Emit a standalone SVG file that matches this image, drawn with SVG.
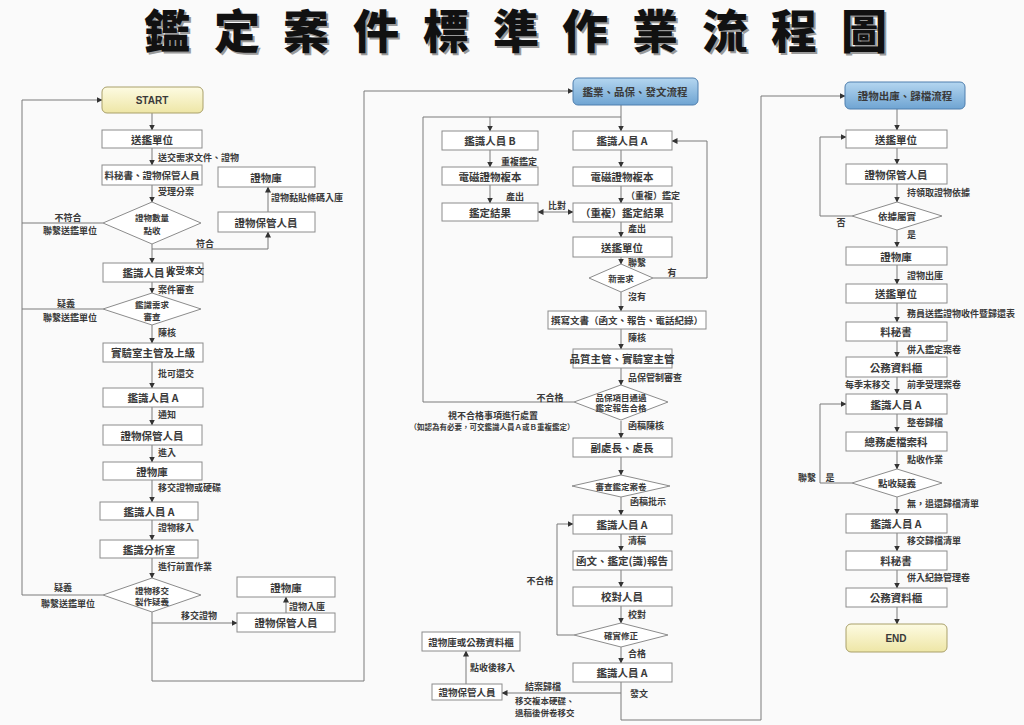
<svg xmlns="http://www.w3.org/2000/svg" width="1024" height="725" viewBox="0 0 1024 725">
<defs>
<linearGradient id="gy" x1="0" y1="0" x2="0" y2="1"><stop offset="0" stop-color="#fdfbe2"/><stop offset="1" stop-color="#eee6a6"/></linearGradient>
<linearGradient id="gb" x1="0" y1="0" x2="0" y2="1"><stop offset="0" stop-color="#b4d6f0"/><stop offset="1" stop-color="#6fa4d2"/></linearGradient>
<marker id="ar" markerWidth="6" markerHeight="6" refX="5.5" refY="3" orient="auto" markerUnits="userSpaceOnUse"><path d="M0,0 L6,3 L0,6 z" fill="#333"/></marker>
<marker id="as" markerWidth="6" markerHeight="6" refX="0.5" refY="3" orient="auto" markerUnits="userSpaceOnUse"><path d="M6,0 L0,3 L6,6 z" fill="#333"/></marker>
<style>
.bx{fill:#fff;stroke:#8c8c8c;stroke-width:1}
.st{fill:url(#gy);stroke:#a9a06a;stroke-width:1}
.bl{fill:url(#gb);stroke:#4f7fae;stroke-width:1}
.dm{fill:#fff;stroke:#8c8c8c;stroke-width:1}
text{font-family:"Noto Sans CJK TC","Noto Sans CJK SC",sans-serif;fill:#3a3a3a;dominant-baseline:central}
.t{font-size:10.5px;font-weight:bold;text-anchor:middle}
.ts{font-size:9.5px;font-weight:bold;text-anchor:middle}
.dt{font-size:8.5px;font-weight:bold;text-anchor:middle}
.l{font-size:9px;font-weight:bold}
.lc{font-size:9px;font-weight:bold;text-anchor:middle}
.en{font-family:"Liberation Sans",sans-serif;font-size:10px;font-weight:bold;text-anchor:middle}
.ln{fill:none;stroke:#7a7a7a;stroke-width:1}
.ti{font-size:46px;font-weight:900;font-family:"Noto Sans CJK TC","Noto Sans CJK SC",sans-serif;dominant-baseline:auto}
</style>
</defs>
<rect x="0" y="0" width="1024" height="725" fill="#fafafa"/>

<g id="title">
<text class="ti" x="146 216 285 355 425 495 564 634 704 773 843" y="50" style="fill:#9a9a9a">鑑定案件標準作業流程圖</text>
<text class="ti" x="144 214 283 353 423 493 562 632 702 771 841" y="48" style="fill:#111">鑑定案件標準作業流程圖</text>
</g>

<g id="connectors">
<!-- left column -->
<path class="ln" d="M152,113 V130" marker-end="url(#ar)"/>
<path class="ln" d="M152,148 V165" marker-end="url(#ar)"/>
<path class="ln" d="M152,185 V202" marker-end="url(#ar)"/>
<path class="ln" d="M103,223 H22 M22,595 V100 H102" marker-end="url(#ar)"/>
<path class="ln" d="M152,244 V263" marker-end="url(#ar)"/>
<path class="ln" d="M152,249 H268 V232" marker-end="url(#ar)"/>
<path class="ln" d="M268,212 V187" marker-end="url(#ar)"/>
<path class="ln" d="M152,282 V293" marker-end="url(#ar)"/>
<path class="ln" d="M103,309 H22"/>
<path class="ln" d="M152,325 V343" marker-end="url(#ar)"/>
<path class="ln" d="M152,362 V388" marker-end="url(#ar)"/>
<path class="ln" d="M152,407 V425" marker-end="url(#ar)"/>
<path class="ln" d="M152,445 V462" marker-end="url(#ar)"/>
<path class="ln" d="M152,480 V502" marker-end="url(#ar)"/>
<path class="ln" d="M152,520 V540" marker-end="url(#ar)"/>
<path class="ln" d="M152,558 V578" marker-end="url(#ar)"/>
<path class="ln" d="M103,595 H22"/>
<path class="ln" d="M152,612 V681 H364 V91 H573" marker-end="url(#ar)"/>
<path class="ln" d="M152,623 H237" marker-end="url(#ar)"/>
<path class="ln" d="M286,613 V597" marker-end="url(#ar)"/>
<!-- middle column -->
<path class="ln" d="M621,105 V117 M423,402 V117 H621"/>
<path class="ln" d="M490,117 V131" marker-end="url(#ar)"/>
<path class="ln" d="M621,117 V131" marker-end="url(#ar)"/>
<path class="ln" d="M490,150 V167" marker-end="url(#ar)"/>
<path class="ln" d="M490,185 V203" marker-end="url(#ar)"/>
<path class="ln" d="M621,150 V167" marker-end="url(#ar)"/>
<path class="ln" d="M621,186 V203" marker-end="url(#ar)"/>
<path class="ln" d="M538,212 H573" marker-start="url(#as)" marker-end="url(#ar)"/>
<path class="ln" d="M621,222 V237" marker-end="url(#ar)"/>
<path class="ln" d="M621,257 V264" marker-end="url(#ar)"/>
<path class="ln" d="M653,278 H707 V141 H672" marker-end="url(#ar)"/>
<path class="ln" d="M621,292 V311" marker-end="url(#ar)"/>
<path class="ln" d="M621,329 V349" marker-end="url(#ar)"/>
<path class="ln" d="M621,368 V385" marker-end="url(#ar)"/>
<path class="ln" d="M574,402 H423"/>
<path class="ln" d="M621,421 V438" marker-end="url(#ar)"/>
<path class="ln" d="M621,457 V475" marker-end="url(#ar)"/>
<path class="ln" d="M621,497 V515" marker-end="url(#ar)"/>
<path class="ln" d="M621,534 V551" marker-end="url(#ar)"/>
<path class="ln" d="M621,570 V587" marker-end="url(#ar)"/>
<path class="ln" d="M621,606 V623" marker-end="url(#ar)"/>
<path class="ln" d="M574,635 H557 V524 H573" marker-end="url(#ar)"/>
<path class="ln" d="M621,647 V663" marker-end="url(#ar)"/>
<path class="ln" d="M621,682 V720 H761 V96 H845" marker-end="url(#ar)"/>
<path class="ln" d="M621,693 H502" marker-end="url(#ar)"/>
<path class="ln" d="M466,684 V651" marker-end="url(#ar)"/>
<!-- right column -->
<path class="ln" d="M897,109 V130" marker-end="url(#ar)"/>
<path class="ln" d="M897,148 V164" marker-end="url(#ar)"/>
<path class="ln" d="M897,184 V202" marker-end="url(#ar)"/>
<path class="ln" d="M852,216 H820 V137 H846" marker-end="url(#ar)"/>
<path class="ln" d="M897,230 V247" marker-end="url(#ar)"/>
<path class="ln" d="M897,265 V284" marker-end="url(#ar)"/>
<path class="ln" d="M897,303 V322" marker-end="url(#ar)"/>
<path class="ln" d="M897,341 V357" marker-end="url(#ar)"/>
<path class="ln" d="M897,377 V394" marker-end="url(#ar)"/>
<path class="ln" d="M897,414 V432" marker-end="url(#ar)"/>
<path class="ln" d="M897,451 V469" marker-end="url(#ar)"/>
<path class="ln" d="M852,483 H820 V404 H846" marker-end="url(#ar)"/>
<path class="ln" d="M897,497 V514" marker-end="url(#ar)"/>
<path class="ln" d="M897,533 V551" marker-end="url(#ar)"/>
<path class="ln" d="M897,570 V588" marker-end="url(#ar)"/>
<path class="ln" d="M897,607 V624" marker-end="url(#ar)"/>
</g>

<g id="labels">
<text class="l" x="158" y="157">送交需求文件、證物</text>
<text class="l" x="158" y="191">受理分案</text>
<text class="lc" x="68" y="217">不符合</text>
<text class="lc" x="70" y="230">聯繫送鑑單位</text>
<text class="lc" x="205" y="243">符合</text>
<text class="l" x="271" y="197">證物黏貼條碼入庫</text>
<text class="l" x="158" y="289">案件審查</text>
<text class="lc" x="66" y="303">疑義</text>
<text class="lc" x="70" y="317">聯繫送鑑單位</text>
<text class="l" x="158" y="332">陳核</text>
<text class="l" x="158" y="373">批可還交</text>
<text class="l" x="158" y="414">通知</text>
<text class="l" x="158" y="452">進入</text>
<text class="l" x="158" y="487">移交證物或硬碟</text>
<text class="l" x="158" y="527">證物移入</text>
<text class="l" x="158" y="566">進行前置作業</text>
<text class="lc" x="63" y="587">疑義</text>
<text class="lc" x="68" y="603">聯繫送鑑單位</text>
<text class="lc" x="199" y="615">移交證物</text>
<text class="l" x="289" y="606">證物入庫</text>

<text class="l" x="501" y="161">重複鑑定</text>
<text class="l" x="506" y="196">產出</text>
<text class="lc" x="557" y="205">比對</text>
<text class="l" x="626" y="195">（重複）鑑定</text>
<text class="l" x="628" y="228">產出</text>
<text class="l" x="628" y="262">聯繫</text>
<text class="lc" x="672" y="272">有</text>
<text class="l" x="628" y="296">沒有</text>
<text class="l" x="628" y="337">陳核</text>
<text class="l" x="628" y="377">品保管制審查</text>
<text class="lc" x="550" y="397">不合格</text>
<text class="lc" x="493" y="415">視不合格事項進行處置</text>
<text class="lc" x="492" y="426" style="font-size:7.5px">（如認為有必要，可交鑑識人員Ａ或Ｂ重複鑑定）</text>
<text class="l" x="628" y="425">函稿陳核</text>
<text class="l" x="630" y="501">函稿批示</text>
<text class="l" x="628" y="540">清稿</text>
<text class="lc" x="540" y="580">不合格</text>
<text class="l" x="628" y="614">校對</text>
<text class="l" x="628" y="653">合格</text>
<text class="l" x="630" y="693">發文</text>
<text class="lc" x="543" y="686">結案歸檔</text>
<text class="l" x="515" y="700" style="font-size:8.5px">移交複本硬碟、</text>
<text class="l" x="515" y="712" style="font-size:8.5px">退稿後併卷移交</text>
<text class="l" x="470" y="667">點收後移入</text>

<text class="lc" x="841" y="222">否</text>
<text class="l" x="907" y="192">持領取證物依據</text>
<text class="l" x="907" y="234">是</text>
<text class="l" x="907" y="275">證物出庫</text>
<text class="l" x="907" y="313">務員送鑑證物收件暨歸還表</text>
<text class="l" x="907" y="349">併入鑑定案卷</text>
<text class="l" x="845" y="384">每季末移交</text>
<text class="l" x="907" y="384">前季受理案卷</text>
<text class="l" x="907" y="422">整卷歸檔</text>
<text class="l" x="907" y="459">點收作業</text>
<text class="lc" x="807" y="477">聯繫</text>
<text class="lc" x="830" y="477">是</text>
<text class="l" x="907" y="503">無，退還歸檔清單</text>
<text class="l" x="907" y="540">移交歸檔清單</text>
<text class="l" x="907" y="577">併入紀錄管理卷</text>
</g>

<!-- left column nodes -->
<g id="start"><rect class="st" x="102" y="87" width="101" height="26" rx="5"/><text class="en" x="152" y="100">START</text></g>
<g id="l1"><rect class="bx" x="102" y="130" width="100" height="18"/><text class="t" x="152" y="139">送鑑單位</text></g>
<g id="l2"><rect class="bx" x="102" y="165" width="100" height="20"/><text class="ts" x="152" y="175">料秘書、證物保管人員</text></g>
<g id="ld1"><polygon class="dm" points="152,202 201,223 152,244 103,223"/><text class="dt" x="152" y="217">證物數量</text><text class="dt" x="152" y="230">點收</text></g>
<g id="l3"><rect class="bx" x="218" y="167" width="97" height="20"/><text class="t" x="266" y="177">證物庫</text></g>
<g id="l4"><rect class="bx" x="218" y="212" width="97" height="20"/><text class="t" x="266" y="222">證物保管人員</text></g>
<g id="l5"><rect class="bx" x="103" y="263" width="100" height="19"/><text class="t" x="148" y="272.5">鑑識人員 A</text><text class="ts" x="166" y="270" style="text-anchor:start">收受來文</text></g>
<g id="ld2"><polygon class="dm" points="152,293 201,309 152,325 103,309"/><text class="dt" x="152" y="304">鑑識需求</text><text class="dt" x="152" y="316">審查</text></g>
<g id="l6"><rect class="bx" x="103" y="343" width="100" height="19"/><text class="t" x="153" y="352.5">實驗室主管及上級</text></g>
<g id="l7"><rect class="bx" x="103" y="388" width="100" height="19"/><text class="t" x="153" y="397.5">鑑識人員 A</text></g>
<g id="l8"><rect class="bx" x="103" y="425" width="99" height="20"/><text class="t" x="152" y="435">證物保管人員</text></g>
<g id="l9"><rect class="bx" x="103" y="462" width="99" height="18"/><text class="t" x="152" y="471">證物庫</text></g>
<g id="l10"><rect class="bx" x="100" y="502" width="98" height="18"/><text class="t" x="149" y="511">鑑識人員 A</text></g>
<g id="l11"><rect class="bx" x="100" y="540" width="98" height="18"/><text class="t" x="149" y="549">鑑識分析室</text></g>
<g id="ld3"><polygon class="dm" points="152,578 201,595 152,612 103,595"/><text class="dt" x="152" y="590">證物移交</text><text class="dt" x="152" y="601">製作疑義</text></g>
<g id="l12"><rect class="bx" x="237" y="577" width="98" height="20"/><text class="t" x="286" y="587">證物庫</text></g>
<g id="l13"><rect class="bx" x="237" y="613" width="98" height="19"/><text class="t" x="286" y="622.5">證物保管人員</text></g>

<!-- middle column nodes -->
<g id="m0"><rect class="bl" x="573" y="78" width="125" height="27" rx="5"/><text class="t" x="635" y="91.5">鑑業、品保、發文流程</text></g>
<g id="mb1"><rect class="bx" x="442" y="131" width="96" height="19"/><text class="t" x="490" y="140.5">鑑識人員 B</text></g>
<g id="mb2"><rect class="bx" x="442" y="167" width="96" height="18"/><text class="t" x="490" y="176">電磁證物複本</text></g>
<g id="mb3"><rect class="bx" x="442" y="203" width="96" height="18"/><text class="t" x="490" y="212">鑑定結果</text></g>
<g id="ma1"><rect class="bx" x="573" y="131" width="99" height="19"/><text class="t" x="622" y="140.5">鑑識人員 A</text></g>
<g id="ma2"><rect class="bx" x="573" y="167" width="99" height="19"/><text class="t" x="622" y="176.5">電磁證物複本</text></g>
<g id="ma3"><rect class="bx" x="573" y="203" width="99" height="19"/><text class="t" x="622" y="212.5">（重複）鑑定結果</text></g>
<g id="ma4"><rect class="bx" x="573" y="237" width="99" height="20"/><text class="t" x="622" y="247">送鑑單位</text></g>
<g id="md1"><polygon class="dm" points="621,264 653,278 621,292 589,278"/><text class="dt" x="621" y="278">新需求</text></g>
<g id="ma5"><rect class="bx" x="548" y="311" width="158" height="18"/><text class="ts" x="627" y="320">撰寫文書（函文、報告、電話紀錄）</text></g>
<g id="ma6"><rect class="bx" x="573" y="349" width="99" height="19"/><text class="t" x="622" y="358.5">品質主管、實驗室主管</text></g>
<g id="md2"><polygon class="dm" points="621,385 668,402 621,420 574,402"/><text class="dt" x="621" y="397">品保項目通過</text><text class="dt" x="621" y="407">鑑定報告合格</text></g>
<g id="ma7"><rect class="bx" x="573" y="438" width="99" height="19"/><text class="t" x="622" y="447.5">副處長、處長</text></g>
<g id="md3"><polygon class="dm" points="621,475 670,486 621,497 572,486"/><text class="dt" x="621" y="486">審查鑑定案卷</text></g>
<g id="ma8"><rect class="bx" x="573" y="515" width="99" height="19"/><text class="t" x="622" y="524.5">鑑識人員 A</text></g>
<g id="ma9"><rect class="bx" x="573" y="551" width="99" height="19"/><text class="t" x="622" y="560.5">函文、鑑定(識)報告</text></g>
<g id="ma10"><rect class="bx" x="573" y="587" width="99" height="19"/><text class="t" x="622" y="596.5">校對人員</text></g>
<g id="md4"><polygon class="dm" points="621,623 668,635 621,647 574,635"/><text class="dt" x="621" y="635">確實修正</text></g>
<g id="ma11"><rect class="bx" x="573" y="663" width="99" height="19"/><text class="t" x="622" y="672.5">鑑識人員 A</text></g>
<g id="mc1"><rect class="bx" x="432" y="684" width="70" height="16"/><text class="ts" x="467" y="692">證物保管人員</text></g>
<g id="mc2"><rect class="bx" x="422" y="632" width="98" height="19"/><text class="ts" x="471" y="641.5">證物庫或公務資料櫃</text></g>

<!-- right column nodes -->
<g id="r0"><rect class="bl" x="845" y="82" width="120" height="27" rx="5"/><text class="t" x="905" y="95.5">證物出庫、歸檔流程</text></g>
<g id="r1"><rect class="bx" x="846" y="130" width="101" height="18"/><text class="t" x="896" y="139">送鑑單位</text></g>
<g id="r2"><rect class="bx" x="846" y="164" width="101" height="20"/><text class="t" x="896" y="174">證物保管人員</text></g>
<g id="rd1"><polygon class="dm" points="897,202 942,216 897,230 852,216"/><text class="ts" x="897" y="216">依據屬實</text></g>
<g id="r3"><rect class="bx" x="846" y="247" width="101" height="18"/><text class="t" x="896" y="256">證物庫</text></g>
<g id="r4"><rect class="bx" x="846" y="284" width="101" height="19"/><text class="t" x="896" y="293.5">送鑑單位</text></g>
<g id="r5"><rect class="bx" x="846" y="322" width="101" height="19"/><text class="t" x="896" y="331.5">料秘書</text></g>
<g id="r6"><rect class="bx" x="846" y="357" width="101" height="20"/><text class="t" x="896" y="367">公務資料櫃</text></g>
<g id="r7"><rect class="bx" x="846" y="394" width="101" height="20"/><text class="t" x="896" y="404">鑑識人員 A</text></g>
<g id="r8"><rect class="bx" x="846" y="432" width="101" height="19"/><text class="t" x="896" y="441.5">總務處檔案科</text></g>
<g id="rd2"><polygon class="dm" points="897,469 942,483 897,497 852,483"/><text class="ts" x="897" y="483">點收疑義</text></g>
<g id="r9"><rect class="bx" x="846" y="514" width="101" height="19"/><text class="t" x="896" y="523.5">鑑識人員 A</text></g>
<g id="r10"><rect class="bx" x="846" y="551" width="101" height="19"/><text class="t" x="896" y="560.5">料秘書</text></g>
<g id="r11"><rect class="bx" x="846" y="588" width="101" height="19"/><text class="t" x="896" y="597.5">公務資料櫃</text></g>
<g id="end"><rect class="st" x="846" y="624" width="101" height="28" rx="5"/><text class="en" x="896" y="638">END</text></g>
</svg>
